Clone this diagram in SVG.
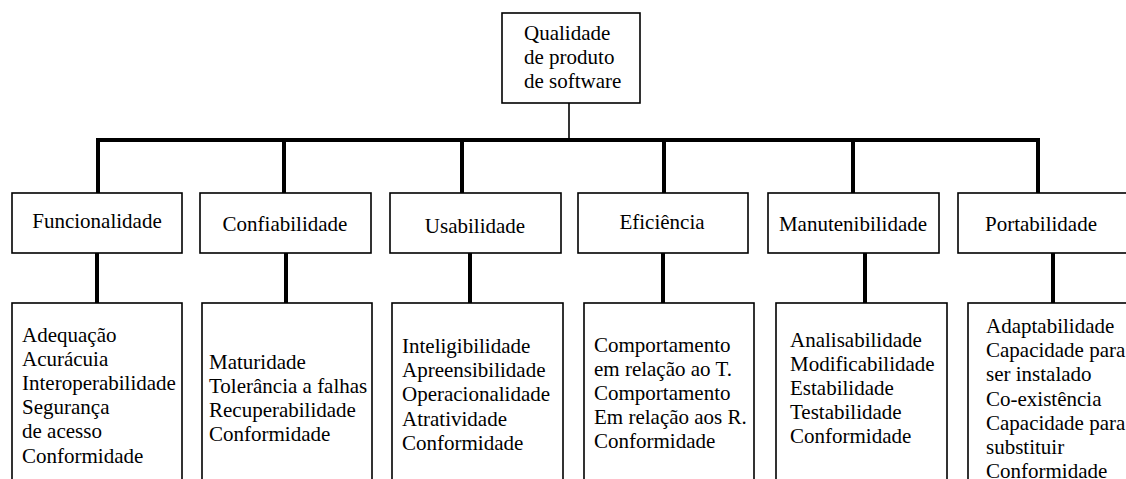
<svg xmlns="http://www.w3.org/2000/svg" width="1126" height="479" viewBox="0 0 1126 479">
  <style>
    .box { fill: #ffffff; stroke: #000000; stroke-width: 1.6; }
    .lbl { font-family: "Liberation Serif", "Times New Roman", serif; font-size: 21px; fill: #000000; }
    .mid { text-anchor: middle; }
    .bar { stroke: #000000; stroke-width: 4; fill: none; stroke-linecap: square; }
    .thin { stroke: #000000; stroke-width: 1.6; fill: none; }
  </style>
  <rect width="1126" height="479" fill="#ffffff"/>

  <!-- connectors -->
  <g id="connectors">
    <line class="thin" x1="569" y1="103" x2="569" y2="140"/>
    <polyline class="bar" points="98,193 98,140 1038,140 1038,193"/>
    <line class="bar" x1="284" y1="140" x2="284" y2="193"/>
    <line class="bar" x1="462" y1="140" x2="462" y2="193"/>
    <line class="bar" x1="664" y1="140" x2="664" y2="193"/>
    <line class="bar" x1="853" y1="140" x2="853" y2="193"/>
    <line class="bar" x1="97" y1="254" x2="97" y2="302"/>
    <line class="bar" x1="286" y1="254" x2="286" y2="302"/>
    <line class="bar" x1="470" y1="254" x2="470" y2="302"/>
    <line class="bar" x1="663" y1="254" x2="663" y2="302"/>
    <line class="bar" x1="865" y1="254" x2="865" y2="302"/>
    <line class="bar" x1="1053" y1="254" x2="1053" y2="302"/>
  </g>

  <!-- root -->
  <g id="root">
    <rect class="box" x="502" y="13" width="138" height="90"/>
    <text class="lbl" x="524" y="39.5">Qualidade</text>
    <text class="lbl" x="524" y="63.5">de produto</text>
    <text class="lbl" x="524" y="87.5">de software</text>
  </g>

  <!-- characteristics -->
  <g id="funcionalidade">
    <rect class="box" x="12" y="193" width="170" height="60"/>
    <text class="lbl mid" x="97" y="228">Funcionalidade</text>
  </g>
  <g id="confiabilidade">
    <rect class="box" x="200" y="193" width="171" height="60"/>
    <text class="lbl mid" x="285" y="231">Confiabilidade</text>
  </g>
  <g id="usabilidade">
    <rect class="box" x="390" y="193" width="171" height="60"/>
    <text class="lbl mid" x="475" y="233">Usabilidade</text>
  </g>
  <g id="eficiencia">
    <rect class="box" x="578" y="193" width="170" height="60"/>
    <text class="lbl mid" x="662" y="229">Eficiência</text>
  </g>
  <g id="manutenibilidade">
    <rect class="box" x="768" y="193" width="171" height="60"/>
    <text class="lbl mid" x="853" y="231">Manutenibilidade</text>
  </g>
  <g id="portabilidade">
    <rect class="box" x="958" y="193" width="171" height="60"/>
    <text class="lbl mid" x="1041" y="231">Portabilidade</text>
  </g>

  <!-- sub-characteristics -->
  <g id="sub-funcionalidade">
    <rect class="box" x="12" y="303" width="170" height="190"/>
    <text class="lbl" x="22" y="341.5">Adequação</text>
    <text class="lbl" x="22" y="365.7">Acurácuia</text>
    <text class="lbl" x="22" y="389.9">Interoperabilidade</text>
    <text class="lbl" x="22" y="414.1">Segurança</text>
    <text class="lbl" x="22" y="438.3">de acesso</text>
    <text class="lbl" x="22" y="462.5">Conformidade</text>
  </g>
  <g id="sub-confiabilidade">
    <rect class="box" x="202" y="303" width="170" height="190"/>
    <text class="lbl" x="209" y="368.5">Maturidade</text>
    <text class="lbl" x="209" y="392.7">Tolerância a falhas</text>
    <text class="lbl" x="209" y="416.9">Recuperabilidade</text>
    <text class="lbl" x="209" y="441.1">Conformidade</text>
  </g>
  <g id="sub-usabilidade">
    <rect class="box" x="392" y="303" width="171" height="190"/>
    <text class="lbl" x="402" y="353">Inteligibilidade</text>
    <text class="lbl" x="402" y="377.2">Apreensibilidade</text>
    <text class="lbl" x="402" y="401.4">Operacionalidade</text>
    <text class="lbl" x="402" y="425.6">Atratividade</text>
    <text class="lbl" x="402" y="449.8">Conformidade</text>
  </g>
  <g id="sub-eficiencia">
    <rect class="box" x="584" y="303" width="170" height="190"/>
    <text class="lbl" x="594" y="351.5">Comportamento</text>
    <text class="lbl" x="594" y="375.7">em relação ao T.</text>
    <text class="lbl" x="594" y="399.9">Comportamento</text>
    <text class="lbl" x="594" y="424.1">Em relação aos R.</text>
    <text class="lbl" x="594" y="448.3">Conformidade</text>
  </g>
  <g id="sub-manutenibilidade">
    <rect class="box" x="776" y="303" width="171" height="190"/>
    <text class="lbl" x="790" y="346.5">Analisabilidade</text>
    <text class="lbl" x="790" y="370.7">Modificabilidade</text>
    <text class="lbl" x="790" y="394.9">Estabilidade</text>
    <text class="lbl" x="790" y="419.1">Testabilidade</text>
    <text class="lbl" x="790" y="443.3">Conformidade</text>
  </g>
  <g id="sub-portabilidade">
    <rect class="box" x="968" y="303" width="171" height="190"/>
    <text class="lbl" x="986" y="333">Adaptabilidade</text>
    <text class="lbl" x="986" y="357.2">Capacidade para</text>
    <text class="lbl" x="986" y="381.4">ser instalado</text>
    <text class="lbl" x="986" y="405.6">Co-existência</text>
    <text class="lbl" x="986" y="429.8">Capacidade para</text>
    <text class="lbl" x="986" y="454">substituir</text>
    <text class="lbl" x="986" y="478.2">Conformidade</text>
  </g>
</svg>
